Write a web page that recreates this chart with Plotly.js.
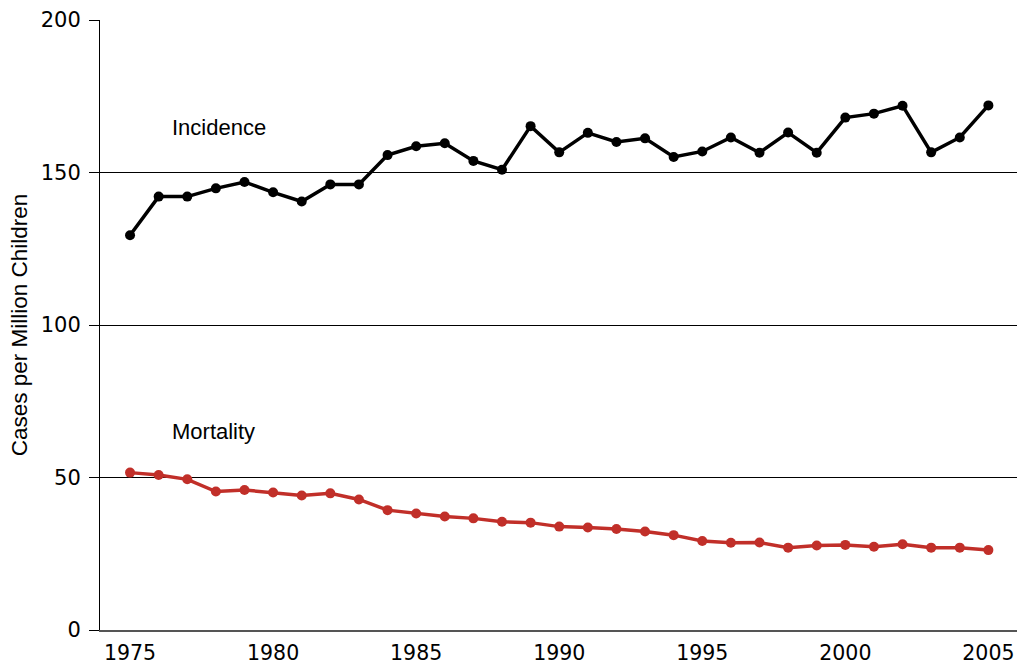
<!DOCTYPE html>
<html>
<head>
<meta charset="utf-8">
<script src="https://cdn.plot.ly/plotly-3.0.1.min.js"></script>
<style>html,body{margin:0;padding:0;background:#fff;}#chart{width:1017px;height:666px;}</style>
</head>
<body>
<div id="chart"></div>
<script>
const years = [1975,1976,1977,1978,1979,1980,1981,1982,1983,1984,1985,1986,1987,1988,1989,1990,1991,1992,1993,1994,1995,1996,1997,1998,1999,2000,2001,2002,2003,2004,2005];
const incidence = [129.4,142.1,142.1,144.8,146.9,143.5,140.5,146.1,146.1,155.7,158.6,159.6,153.8,150.9,165.2,156.6,163.0,160.0,161.2,155.1,156.9,161.5,156.5,163.1,156.5,168.0,169.3,171.9,156.6,161.5,172.0];
const mortality = [51.6,50.8,49.4,45.4,45.9,45.1,44.1,44.8,42.8,39.3,38.2,37.2,36.6,35.5,35.2,33.9,33.6,33.1,32.3,31.1,29.2,28.6,28.7,27.0,27.7,27.9,27.3,28.1,27.0,27.0,26.2];
const xTicks = [1975,1980,1985,1990,1995,2000,2005];
const yTicks = [0,50,100,150,200];
const seriesNames = ["Incidence","Mortality"];

const traces = [
  {x: years, y: incidence, name: seriesNames[0], type: 'scatter', mode: 'lines+markers',
   line: {color: '#000000', width: 3.5}, marker: {color: '#000000', size: 10}},
  {x: years, y: mortality, name: seriesNames[1], type: 'scatter', mode: 'lines+markers',
   line: {color: '#c12f29', width: 3.5}, marker: {color: '#c12f29', size: 10}}
];

const layout = {
  width: 1017, height: 666,
  margin: {l: 100, r: 0, t: 20, b: 36, pad: 0},
  paper_bgcolor: '#ffffff', plot_bgcolor: '#ffffff',
  showlegend: false,
  font: {family: 'Liberation Sans, Arial, sans-serif', color: '#000'},
  xaxis: {
    range: [1973.95, 2006.0], tickvals: xTicks, ticktext: xTicks.map(String),
    showgrid: false, zeroline: false, ticks: '', showline: true, linecolor: '#555555', linewidth: 2,
    tickfont: {family: 'DejaVu Sans, sans-serif', size: 20.5, color: '#000'},
    ticklabelstandoff: 3, automargin: false
  },
  yaxis: {
    range: [0, 200], tickvals: yTicks, ticktext: yTicks.map(String),
    showgrid: true, gridcolor: '#000000', gridwidth: 1, zeroline: false,
    showline: true, linecolor: '#000000', linewidth: 1,
    ticks: 'outside', ticklen: 10, tickcolor: '#000000', tickwidth: 1,
    tickfont: {family: 'DejaVu Sans, sans-serif', size: 21, color: '#000'},
    ticklabelstandoff: 4, automargin: false,
    title: {text: 'Cases per Million Children', font: {family: 'Liberation Sans, Arial, sans-serif', size: 22.5, color: '#000'}, standoff: 6}
  },
  annotations: [
    {x: 1976.4, y: 164.6, xref: 'x', yref: 'y', text: seriesNames[0], showarrow: false, xanchor: 'left', yanchor: 'middle',
     font: {family: 'Liberation Sans, Arial, sans-serif', size: 22, color: '#000'}},
    {x: 1976.4, y: 65.2, xref: 'x', yref: 'y', text: seriesNames[1], showarrow: false, xanchor: 'left', yanchor: 'middle',
     font: {family: 'Liberation Sans, Arial, sans-serif', size: 22, color: '#000'}}
  ]
};

Plotly.newPlot('chart', traces, layout, {displayModeBar: false, staticPlot: true});
</script>
</body>
</html>
